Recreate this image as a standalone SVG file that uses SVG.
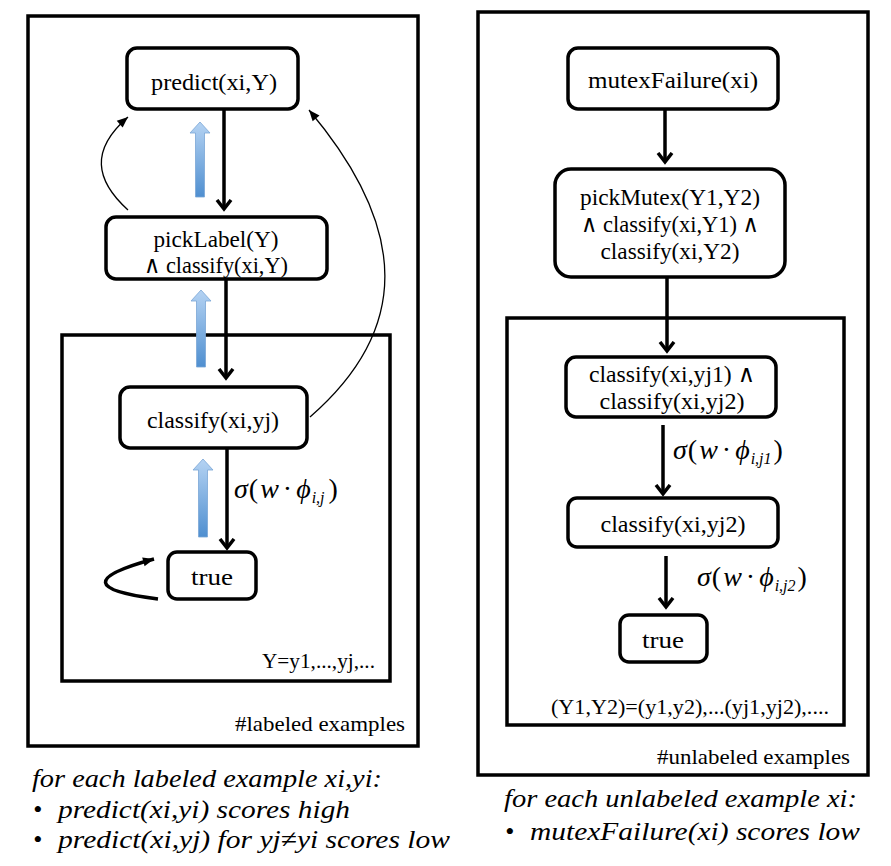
<svg xmlns="http://www.w3.org/2000/svg" width="891" height="866" viewBox="0 0 891 866">
<style>
.frame{fill:none;stroke:#000;stroke-width:3.5}
.node{fill:#fff;stroke:#000;stroke-width:3.5}
.t{font-family:"Liberation Serif","DejaVu Serif",serif;font-size:24px;fill:#000;text-anchor:middle}
.lbl{font-family:"Liberation Serif","DejaVu Serif",serif;font-size:22px;fill:#000;text-anchor:end}
.m{font-family:"Liberation Serif",serif;font-size:28px;fill:#000}
.i{font-style:italic}
.sub{font-size:16px;font-style:italic}
.note{font-family:"Liberation Serif","DejaVu Serif",serif;font-style:italic;font-size:26px;fill:#000}
.edge{fill:none;stroke:#000;stroke-width:3.5}
.thin{fill:none;stroke:#000;stroke-width:1.3}
.blue{fill:url(#bg);stroke:#7aa6d6;stroke-width:0.8}
</style>
<defs>
<linearGradient id="bg" x1="0" y1="0" x2="0" y2="1">
<stop offset="0" stop-color="#b5d3f3"/>
<stop offset="1" stop-color="#4f8fd0"/>
</linearGradient>
<marker id="ah" markerUnits="userSpaceOnUse" markerWidth="20" markerHeight="20" viewBox="-10 -10 20 20" refX="0" refY="0" orient="auto">
<path d="M-9,-7 L0,0 L-9,7" fill="none" stroke="#000" stroke-width="3.5" stroke-linejoin="miter"/>
</marker>
<marker id="ahs" markerUnits="userSpaceOnUse" markerWidth="14" markerHeight="14" viewBox="-12 -7 14 14" refX="0" refY="0" orient="auto">
<path d="M-11,-4.5 L0,0 L-11,4.5 Z" fill="#000"/>
</marker>
</defs>

<g id="frames">
<rect class="frame" x="28" y="16" width="390" height="730"/>
<rect class="frame" x="62" y="335" width="328" height="346"/>
<rect class="frame" x="478" y="12" width="390" height="763"/>
<rect class="frame" x="507" y="318" width="337" height="407"/>
<text class="lbl" x="375" y="668" textLength="113" lengthAdjust="spacingAndGlyphs">Y=y1,...,yj,...</text>
<text class="lbl" x="405" y="731" textLength="170" lengthAdjust="spacingAndGlyphs">#labeled examples</text>
<text class="lbl" x="829" y="714" textLength="278" lengthAdjust="spacingAndGlyphs">(Y1,Y2)=(y1,y2),...(yj1,yj2),....</text>
<text class="lbl" x="850" y="764" textLength="193" lengthAdjust="spacingAndGlyphs">#unlabeled examples</text>
</g>

<g id="connectors">
<path class="edge" d="M224,109 V209" marker-end="url(#ah)"/>
<path class="edge" d="M226,279 V378" marker-end="url(#ah)"/>
<path class="edge" d="M227,448 V548" marker-end="url(#ah)"/>
<path class="edge" d="M158,599 Q55,586 154,559" marker-end="url(#ahs)"/>
<path class="thin" d="M128,210 C95,180 90,150 128,117" marker-end="url(#ahs)"/>
<path class="thin" d="M310,417 C410,330 410,230 309,110" marker-end="url(#ahs)"/>
<path class="edge" d="M665,109 V162" marker-end="url(#ah)"/>
<path class="edge" d="M667,277 V351" marker-end="url(#ah)"/>
<path class="edge" d="M663,425 V494" marker-end="url(#ah)"/>
<path class="edge" d="M666,556 V607" marker-end="url(#ah)"/>
<polygon class="blue" points="200,122 210,133 204.5,133 204.5,197 195.5,197 195.5,133 190,133"/>
<polygon class="blue" points="201,290 211,301 205.5,301 205.5,367 196.5,367 196.5,301 191,301"/>
<polygon class="blue" points="203,459 213,470 207.5,470 207.5,537 198.5,537 198.5,470 193,470"/>
<text class="m" x="234" y="498"><tspan class="i">σ</tspan><tspan dx="1">(</tspan><tspan class="i" dx="2">w</tspan><tspan dx="4">·</tspan><tspan class="i" dx="4">ϕ</tspan><tspan class="sub" dx="1" dy="5">i,j</tspan><tspan dx="4" dy="-5">)</tspan></text>
<text class="m" x="673" y="459"><tspan class="i">σ</tspan><tspan dx="1">(</tspan><tspan class="i" dx="2">w</tspan><tspan dx="4">·</tspan><tspan class="i" dx="4">ϕ</tspan><tspan class="sub" dx="1" dy="5">i,j1</tspan><tspan dx="2" dy="-5">)</tspan></text>
<text class="m" x="697" y="586"><tspan class="i">σ</tspan><tspan dx="1">(</tspan><tspan class="i" dx="2">w</tspan><tspan dx="4">·</tspan><tspan class="i" dx="4">ϕ</tspan><tspan class="sub" dx="1" dy="5">i,j2</tspan><tspan dx="2" dy="-5">)</tspan></text>
</g>

<g id="predict">
<rect class="node" x="127" y="48" width="171" height="61" rx="10"/>
<text class="t" x="214" y="90" textLength="126" lengthAdjust="spacingAndGlyphs">predict(xi,Y)</text>
</g>
<g id="pickLabel">
<rect class="node" x="106" y="217" width="221" height="62" rx="10"/>
<text class="t" x="216" y="247" textLength="125" lengthAdjust="spacingAndGlyphs">pickLabel(Y)</text>
<text class="t" x="216" y="273" textLength="144" lengthAdjust="spacingAndGlyphs">∧ classify(xi,Y)</text>
</g>
<g id="classify-left">
<rect class="node" x="120" y="387" width="187" height="61" rx="10"/>
<text class="t" x="213" y="428" textLength="132" lengthAdjust="spacingAndGlyphs">classify(xi,yj)</text>
</g>
<g id="true-left">
<rect class="node" x="168" y="552" width="88" height="47" rx="9"/>
<text class="t" x="212" y="585" textLength="42" lengthAdjust="spacingAndGlyphs">true</text>
</g>
<g id="mutexFailure">
<rect class="node" x="568" y="48" width="210" height="61" rx="10"/>
<text class="t" x="673" y="88" textLength="170" lengthAdjust="spacingAndGlyphs">mutexFailure(xi)</text>
</g>
<g id="pickMutex">
<rect class="node" x="555" y="169" width="230" height="108" rx="16"/>
<text class="t" x="670" y="205" textLength="180" lengthAdjust="spacingAndGlyphs">pickMutex(Y1,Y2)</text>
<text class="t" x="670" y="232" textLength="178" lengthAdjust="spacingAndGlyphs">∧ classify(xi,Y1) ∧</text>
<text class="t" x="670" y="259" textLength="139" lengthAdjust="spacingAndGlyphs">classify(xi,Y2)</text>
</g>
<g id="classify-pair">
<rect class="node" x="566" y="357" width="210" height="60" rx="10"/>
<text class="t" x="672" y="382" textLength="166" lengthAdjust="spacingAndGlyphs">classify(xi,yj1) ∧</text>
<text class="t" x="672" y="409" textLength="145" lengthAdjust="spacingAndGlyphs">classify(xi,yj2)</text>
</g>
<g id="classify-yj2">
<rect class="node" x="568" y="498" width="210" height="49" rx="9"/>
<text class="t" x="673" y="532" textLength="145" lengthAdjust="spacingAndGlyphs">classify(xi,yj2)</text>
</g>
<g id="true-right">
<rect class="node" x="620" y="615" width="87" height="47" rx="9"/>
<text class="t" x="663" y="648" textLength="42" lengthAdjust="spacingAndGlyphs">true</text>
</g>

<g id="notes">
<text class="note" x="32" y="787" textLength="350" lengthAdjust="spacingAndGlyphs">for each labeled example xi,yi:</text>
<text class="note" x="33" y="818" font-style="normal">•</text>
<text class="note" x="58" y="818" textLength="292" lengthAdjust="spacingAndGlyphs">predict(xi,yi) scores high</text>
<text class="note" x="33" y="848" font-style="normal">•</text>
<text class="note" x="58" y="848" textLength="392" lengthAdjust="spacingAndGlyphs">predict(xi,yj) for yj≠yi scores low</text>
<text class="note" x="504" y="807" textLength="353" lengthAdjust="spacingAndGlyphs">for each unlabeled example xi:</text>
<text class="note" x="505" y="840" font-style="normal">•</text>
<text class="note" x="530" y="840" textLength="330" lengthAdjust="spacingAndGlyphs">mutexFailure(xi) scores low</text>
</g>
</svg>
